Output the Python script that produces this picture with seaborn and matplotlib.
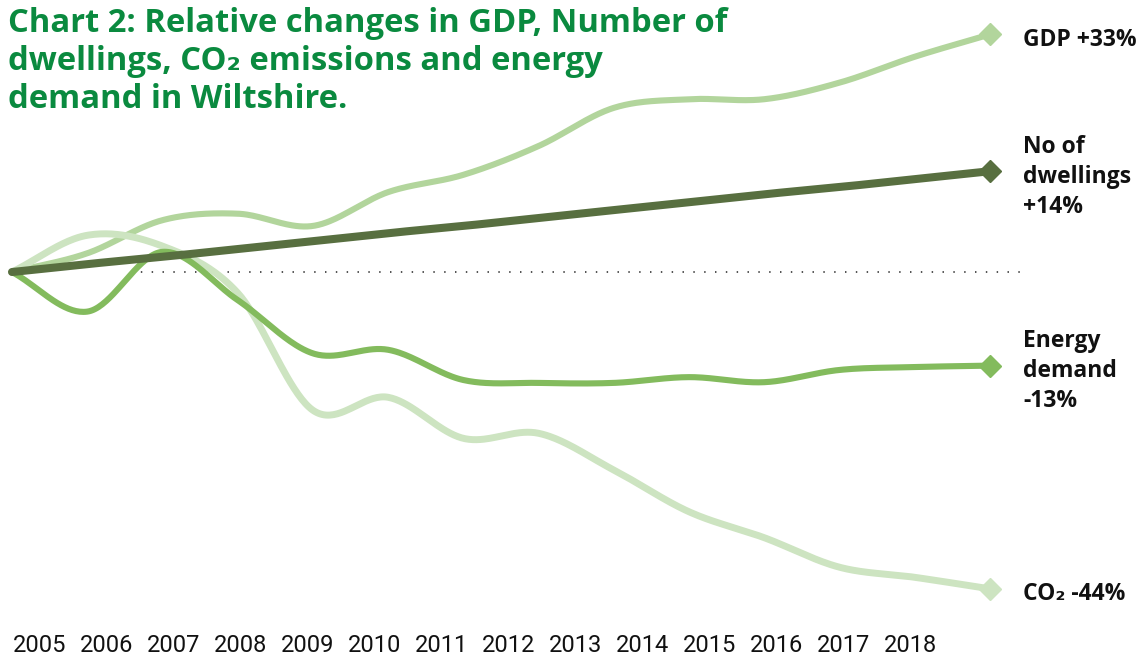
import numpy as np
import pandas as pd
import matplotlib
matplotlib.use("Agg")
import matplotlib.pyplot as plt
import seaborn as sns

sns.set_theme(style="white")
plt.rcParams['font.family'] = ['Roboto', 'DejaVu Sans']

# ---- data (relative change vs 2005, %) ----
years = list(range(2005, 2019))
gdp = [0, 2.6, 7.2, 8.1, 6.4, 11.1, 13.5, 17.5, 22.8, 24.0, 24.0, 26.3, 29.9, 33.0]
dwellings = [0, 1.1, 2.1, 3.2, 4.3, 5.4, 6.4, 7.5, 8.6, 9.7, 10.8, 11.8, 12.9, 14.0]
energy = [0, -5.5, 2.8, -3.9, -11.3, -10.8, -15.0, -15.4, -15.4, -14.6, -15.3, -13.6, -13.2, -13.0]
co2 = [0, 5.1, 3.6, -2.9, -19.2, -17.4, -23.1, -22.4, -27.5, -33.3, -36.9, -41.0, -42.4, -44.0]
tick_labels = [str(y) for y in years]

series = [
    ("GDP +33%", gdp, "#b2d59c", 4.4, 2),
    ("CO\u2082 -44%", co2, "#cde4c1", 5.0, 3),
    ("Energy\ndemand\n-13%", energy, "#83bb5d", 4.4, 4),
    ("No of\ndwellings\n+14%", dwellings, "#586f40", 5.8, 5),
]


def smooth(x, y, n=40):
    x = np.asarray(x, float)
    y = np.asarray(y, float)
    xp = np.concatenate([[2 * x[0] - x[1]], x, [2 * x[-1] - x[-2]]])
    yp = np.concatenate([[2 * y[0] - y[1]], y, [2 * y[-1] - y[-2]]])
    xs, ys = [], []
    t = np.linspace(0, 1, n, endpoint=False)
    for i in range(1, len(xp) - 2):
        for arr, out in ((xp, xs), (yp, ys)):
            p0, p1, p2, p3 = arr[i - 1], arr[i], arr[i + 1], arr[i + 2]
            out.extend(0.5 * ((2 * p1) + (-p0 + p2) * t
                              + (2 * p0 - 5 * p1 + 4 * p2 - p3) * t ** 2
                              + (-p0 + 3 * p1 - 3 * p2 + p3) * t ** 3))
    xs.append(x[-1])
    ys.append(y[-1])
    return np.array(xs), np.array(ys)


W, H = 1147, 658
fig = plt.figure(figsize=(W / 100, H / 100), dpi=100)
ax = fig.add_axes([12 / W, (H - 610) / H, 978 / W, 590 / H])
ax.set_xlim(years[0], years[-1])
ax.set_ylim(-46.94, 35.0)

# dotted zero line
ax.plot([2006.57, 2018.47], [0, 0], color="#444444", lw=1.3,
        dashes=(0.8, 5.2), zorder=1, clip_on=False)

for label, vals, color, lw, z in series:
    xs, ys = smooth(years, vals)
    df = pd.DataFrame({"x": xs, "y": ys})
    sns.lineplot(data=df, x="x", y="y", ax=ax, color=color, lw=lw,
                 sort=False, estimator=None, zorder=z, clip_on=False)
    ax.lines[-1].set_solid_capstyle("round")
    ax.plot([years[-1]], [vals[-1]], marker="D", ms=11, color=color,
            mec=color, zorder=z, clip_on=False)
    ax.annotate(label, xy=(years[-1], vals[-1]), xytext=(24, -4),
                textcoords="offset points", ha="left", va="center",
                fontsize=16.5, fontweight="bold", color="#111111",
                family=["Open Sans", "DejaVu Sans"], linespacing=1.32,
                annotation_clip=False)

ax.set_xlabel("")
ax.set_ylabel("")
ax.set_xticks([])
ax.set_yticks([])
for s in ax.spines.values():
    s.set_visible(False)

# year labels on a secondary axis
ax2 = ax.twiny()
ax2.set_xlim(2004.582, 2019.196)
ax2.set_xticks(years)
ax2.set_xticklabels(tick_labels, fontsize=17, color="#111111")
ax2.xaxis.set_ticks_position("bottom")
ax2.xaxis.set_label_position("bottom")
ax2.tick_params(axis="x", length=0, pad=17, labelbottom=True, labeltop=False)
ax2.set_yticks([])
for s in ax2.spines.values():
    s.set_visible(False)

# title
tcol = "#0a8a3f"
tfam = ["Open Sans", "DejaVu Sans"]
fig.text(8 / W, 1 - 7 / H,
         "Chart 2: Relative changes in GDP, Number of\n"
         "dwellings, CO\u2082 emissions and energy\n"
         "demand in Wiltshire.",
         fontsize=23.6, fontweight="bold", color=tcol, ha="left", va="top",
         linespacing=1.2, family=tfam)

fig.savefig("out.png", dpi=100)
